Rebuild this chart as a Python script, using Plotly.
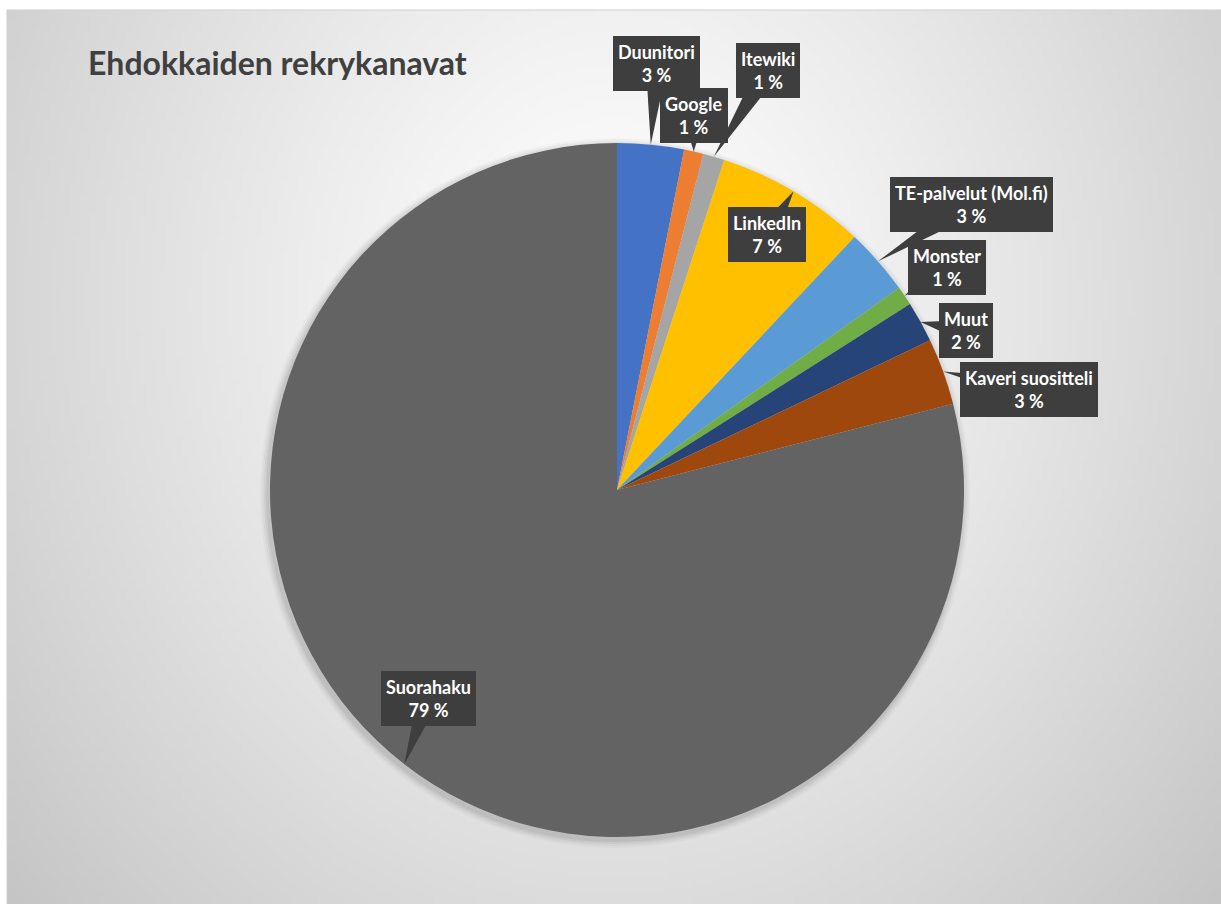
import math, zlib, struct, base64
import plotly.graph_objects as go

# ---------------- data ----------------
channels = ["Duunitori", "Google", "Itewiki", "LinkedIn", "TE-palvelut (Mol.fi)",
            "Monster", "Muut", "Kaveri suositteli", "Suorahaku"]
shares = [3.1, 0.9, 1.0, 7.0, 3.1, 0.9, 1.9, 3.1, 79.0]
colors = ["#4472C4", "#ED7D31", "#A5A5A5", "#FFC000", "#5B9BD5",
          "#70AD47", "#264478", "#9E480E", "#636363"]
title_text = "Ehdokkaiden rekrykanavat"

# label box offsets (px, box centre relative to arrow tip on slice edge)
label_offsets = [(6, -81), (0, -36), (54, -86), (-27, 43), (93, -57),
                 (42, -28), (45, 9), (86, 18), (24, -66)]

W, H = 1221, 904
CX, CY, R = 617, 490, 347
BOX = "#3E3E3E"

# ---------------- background radial gradient (PNG) ----------------
def gradient_png(w, h):
    rows = []
    for j in range(h):
        y = (j + 0.5) / h * (H - 10) + 10
        row = bytearray([0])
        for i in range(w):
            x = (i + 0.5) / w * (W - 7) + 7
            d = math.hypot((x - 615) / 610.0, (y - 300) / 700.0)
            v = 255 - 42 * d ** 1.2
            row.append(max(0, min(255, int(round(v)))))
        rows.append(bytes(row))
    raw = b"".join(rows)
    def chunk(t, data):
        c = struct.pack(">I", len(data)) + t + data
        return c + struct.pack(">I", zlib.crc32(t + data) & 0xffffffff)
    png = b"\x89PNG\r\n\x1a\n"
    png += chunk(b"IHDR", struct.pack(">IIBBBBB", w, h, 8, 0, 0, 0, 0))
    png += chunk(b"IDAT", zlib.compress(raw, 9))
    png += chunk(b"IEND", b"")
    return "data:image/png;base64," + base64.b64encode(png).decode()

bg = gradient_png(240, 180)

# ---------------- figure ----------------
dom_x = [(CX - R) / W, (CX + R) / W]
dom_y = [1 - (CY + R) / H, 1 - (CY - R) / H]

fig = go.Figure()
fig.add_trace(go.Pie(
    labels=channels, values=shares, sort=False, direction="clockwise",
    rotation=0, textinfo="none", hoverinfo="label+percent",
    marker=dict(colors=colors, line=dict(width=0)),
    domain=dict(x=dom_x, y=dom_y), showlegend=False,
))

def P(px, py):
    return px / W, 1 - py / H

# shadow behind the pie
shapes = []
for k, op in [(8, 0.025), (6, 0.035), (4, 0.045), (2, 0.055)]:
    x0, x1 = CX - R - k - 2, CX + R + k - 2
    y0, y1 = CY - R - k + 3, CY + R + k + 3
    shapes.append(dict(type="circle", xref="paper", yref="paper", layer="below",
                       x0=x0 / W, x1=x1 / W, y0=1 - y1 / H, y1=1 - y0 / H,
                       fillcolor=f"rgba(0,0,0,{op})", line=dict(width=0)))
# chart frame
shapes.append(dict(type="rect", xref="paper", yref="paper", layer="below",
                   x0=7 / W, x1=1.01, y0=-0.01, y1=1 - 10 / H,
                   line=dict(color="#CFCFCF", width=1), fillcolor="rgba(0,0,0,0)"))

annotations = []
total = sum(shares)
cum = 0.0
for name, v, (ox, oy) in zip(channels, shares, label_offsets):
    mid = (cum + v / 2) / total * 2 * math.pi
    cum += v
    tx = CX + R * math.sin(mid)
    ty = CY - R * math.cos(mid)
    bx, by = tx + ox, ty + oy
    # wedge pointer from tip to the box centre
    L = math.hypot(ox, oy)
    nx, ny = -oy / L, ox / L
    hw = 11
    pts = [(tx, ty), (bx + nx * hw, by + ny * hw), (bx - nx * hw, by - ny * hw)]
    path = "M " + " L ".join(f"{P(a, b)[0]:.5f},{P(a, b)[1]:.5f}" for a, b in pts) + " Z"
    shapes.append(dict(type="path", xref="paper", yref="paper", layer="above",
                       path=path, fillcolor=BOX, line=dict(width=0)))
    annotations.append(dict(
        x=P(bx, by)[0], y=P(bx, by)[1], xref="paper", yref="paper",
        xanchor="center", yanchor="middle", showarrow=False,
        text=f"<b>{name}<br>{round(v / total * 100):.0f} %</b>",
        font=dict(family="Lato, Calibri, sans-serif", size=18, color="white"),
        bgcolor=BOX, borderpad=5, borderwidth=0, align="center",
    ))

annotations.append(dict(
    x=86 / W, y=1 - 63 / H, xref="paper", yref="paper", xanchor="left", yanchor="middle",
    showarrow=False, text=f"<b>{title_text}</b>",
    font=dict(family="Lato, Calibri, sans-serif", size=32, color="#404040"),
))

fig.update_layout(
    width=W, height=H, margin=dict(l=0, r=0, t=0, b=0),
    paper_bgcolor="white", plot_bgcolor="white",
    shapes=shapes, annotations=annotations,
    images=[dict(source=bg, xref="paper", yref="paper", x=7 / W, y=1 - 10 / H,
                 sizex=1 - 7 / W, sizey=1 - 10 / H, sizing="stretch",
                 xanchor="left", yanchor="top", layer="below")],
)

fig.write_html("out.html", config={"displayModeBar": False})
